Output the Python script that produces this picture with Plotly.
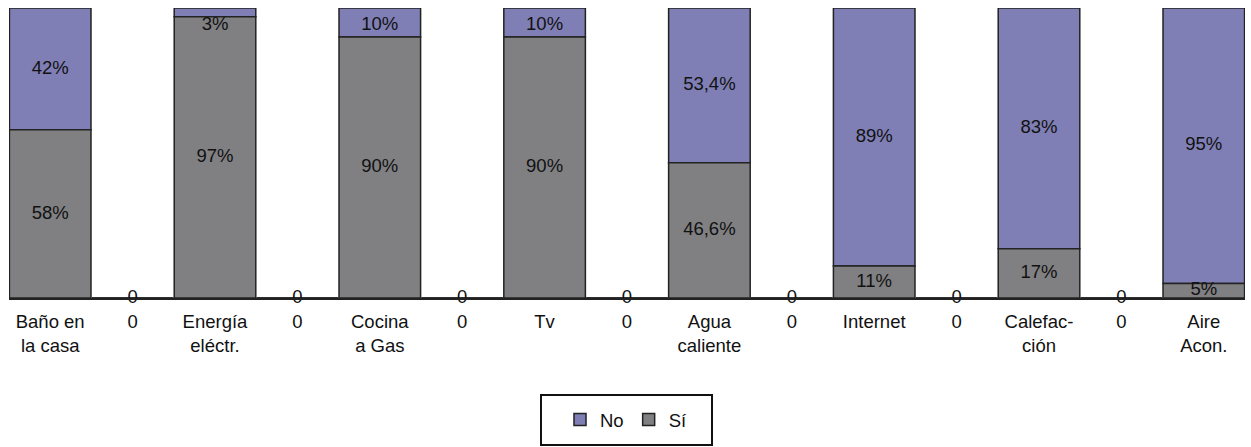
import plotly.graph_objects as go

categories = ["Baño en<br>la casa", "0", "Energía<br>eléctr.", "0", "Cocina<br>a Gas", "0", "Tv", "0",
              "Agua<br>caliente", "0", "Internet", "0", "Calefac-<br>ción", "0", "Aire<br>Acon."]
si_values = [58, 0, 97, 0, 90, 0, 90, 0, 46.6, 0, 11, 0, 17, 0, 5]
no_values = [42, 0, 3, 0, 10, 0, 10, 0, 53.4, 0, 89, 0, 83, 0, 95]
si_labels = ["58%", "", "97%", "", "90%", "", "90%", "", "46,6%", "", "11%", "", "17%", "", "5%"]
no_labels = ["42%", "", "3%", "", "10%", "", "10%", "", "53,4%", "", "89%", "", "83%", "", "95%"]
gap_labels = ["", "0", "", "0", "", "0", "", "0", "", "0", "", "0", "", "0", ""]

x = list(range(len(categories)))
FONT = "Liberation Sans, Arial, sans-serif"
FS = 18.5
PURPLE = "#7F7FB5"
GRAY = "#808083"
EDGE = "#222222"

fig = go.Figure()
fig.add_trace(go.Bar(x=x, y=no_values, base=si_values, name="No",
                     marker=dict(color=PURPLE, line=dict(color=EDGE, width=1.5)),
                     hoverinfo="skip"))
fig.add_trace(go.Bar(x=x, y=si_values, name="Sí",
                     marker=dict(color=GRAY, line=dict(color=EDGE, width=1.5)),
                     hoverinfo="skip"))

# data labels centred in segments
si_pos = [v / 2 for v in si_values]
no_pos = [min(s + n / 2, 94) for s, n in zip(si_values, no_values)]
for pos, labels in ((si_pos, si_labels), (no_pos, no_labels), ([0] * len(x), gap_labels)):
    fig.add_trace(go.Scatter(x=x, y=pos, text=labels, mode="text", showlegend=False,
                             hoverinfo="skip",
                             textfont=dict(family=FONT, size=FS, color="#111"), cliponaxis=False))

# legend frame
fig.add_shape(type="rect", xref="paper", yref="paper",
              x0=(541 - 9) / 1236, x1=(712 - 9) / 1236,
              y0=(298 - 445) / 290, y1=(298 - 395) / 290,
              line=dict(color="#111", width=2), fillcolor="rgba(0,0,0,0)")

fig.update_layout(
    width=1251, height=447,
    margin=dict(l=9, r=6, t=8, b=149, autoexpand=False),
    plot_bgcolor="white", paper_bgcolor="white",
    barmode="overlay", bargap=0.01,
    font=dict(family=FONT, size=FS, color="#111"),
    legend=dict(orientation="h", x=(626 - 9) / 1236, xanchor="center", y=(298 - 420) / 290,
                yanchor="middle", borderwidth=0, traceorder="normal", bgcolor="rgba(0,0,0,0)",
                font=dict(family=FONT, size=FS, color="#111"),
                itemwidth=30),
    xaxis=dict(tickmode="array", tickvals=x, ticktext=categories, range=[-0.5, len(x) - 0.5],
               showline=True, linecolor="#222", linewidth=1.5, showgrid=False, ticks="",
               tickfont=dict(family=FONT, size=FS, color="#111"), ticklabelstandoff=6),
    yaxis=dict(range=[0, 100], visible=False, showgrid=False),
)

fig.write_html("out.html", config={"displayModeBar": False},
               post_script="document.body.style.margin='0';")
